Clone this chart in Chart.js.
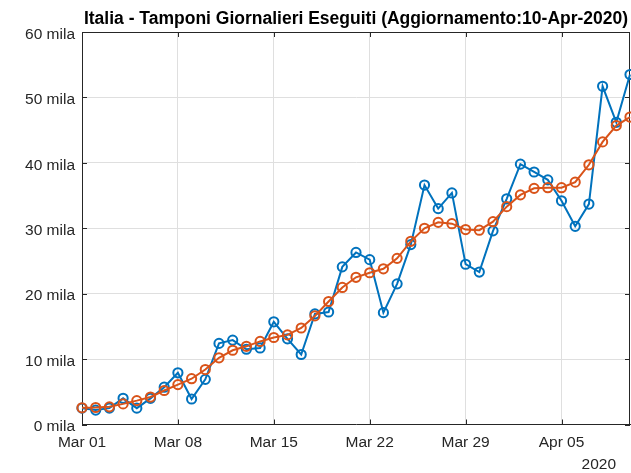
<!DOCTYPE html>
<html><head><meta charset="utf-8">
<script src="https://cdn.jsdelivr.net/npm/chart.js@4.4.1/dist/chart.umd.min.js"></script>
<style>html,body{margin:0;padding:0;background:#fff}canvas{display:block}</style>
</head><body>
<canvas id="c" width="631" height="473"></canvas>
<script>
const dates = ["Mar 01","Mar 02","Mar 03","Mar 04","Mar 05","Mar 06","Mar 07","Mar 08","Mar 09","Mar 10",
  "Mar 11","Mar 12","Mar 13","Mar 14","Mar 15","Mar 16","Mar 17","Mar 18","Mar 19","Mar 20",
  "Mar 21","Mar 22","Mar 23","Mar 24","Mar 25","Mar 26","Mar 27","Mar 28","Mar 29","Mar 30",
  "Mar 31","Apr 01","Apr 02","Apr 03","Apr 04","Apr 05","Apr 06","Apr 07","Apr 08","Apr 09","Apr 10"];
const tickLabels = ["Mar 01","Mar 08","Mar 15","Mar 22","Mar 29","Apr 05"];
// daily swabs (thousands)
const tamponi = [2.5,2.2,2.5,4.0,2.5,4.0,5.7,7.9,3.9,6.9,
  12.4,12.9,11.5,11.7,15.7,13.1,10.7,16.9,17.2,24.1,
  26.3,25.2,17.1,21.5,27.5,36.6,33.0,35.4,24.5,23.3,
  29.6,34.5,39.8,38.6,37.4,34.2,30.3,33.7,51.7,46.2,53.5];
// moving average (thousands)
const media = [2.55,2.6,2.7,3.15,3.65,4.2,5.2,6.1,7.0,8.4,
  10.2,11.35,11.95,12.7,13.3,13.7,14.75,16.6,18.8,20.95,
  22.5,23.2,23.8,25.4,28.0,30.0,30.9,30.7,29.8,29.7,
  31.0,33.3,35.1,36.1,36.2,36.2,37.05,39.7,43.2,45.7,47.0];
const yTicks = [0,10,20,30,40,50,60];
const yearLabel = "2020";
const titleText = "Italia - Tamponi Giornalieri Eseguiti (Aggiornamento:10-Apr-2020)";

const FONT = '"Liberation Sans", Arial, Helvetica, sans-serif';
const AX = '#262626';
const GRID = 'rgb(223,223,223)';
const BLUE = '#0072BD';
const ORANGE = '#D95319';

const framePlugin = {
  id: 'frame',
  beforeDatasetsDraw(chart) {
    const {ctx, chartArea: a, scales} = chart;
    ctx.save();
    ctx.strokeStyle = AX;
    ctx.lineWidth = 1;
    ctx.beginPath();
    ctx.moveTo(a.left, a.top + 0.5); ctx.lineTo(a.right, a.top + 0.5);
    ctx.moveTo(a.right - 0.5, a.top); ctx.lineTo(a.right - 0.5, a.bottom);
    const tl = 5;
    scales.x.ticks.forEach(t => {
      const px = Math.round(scales.x.getPixelForValue(t.value)) + 0.5;
      ctx.moveTo(px, a.bottom); ctx.lineTo(px, a.bottom - tl);
      ctx.moveTo(px, a.top); ctx.lineTo(px, a.top + tl);
    });
    scales.y.ticks.forEach(t => {
      const py = Math.round(scales.y.getPixelForValue(t.value)) + 0.5;
      ctx.moveTo(a.left, py); ctx.lineTo(a.left + tl, py);
      ctx.moveTo(a.right, py); ctx.lineTo(a.right - tl, py);
    });
    ctx.stroke();
    ctx.restore();
  },
  afterDraw(chart) {
    const {ctx, chartArea: a} = chart;
    ctx.save();
    ctx.fillStyle = '#000';
    ctx.font = 'bold 17.5px ' + FONT;
    ctx.textAlign = 'center';
    ctx.textBaseline = 'alphabetic';
    ctx.fillText(titleText, (a.left + a.right) / 2, 24);
    ctx.fillStyle = AX;
    ctx.font = '15.5px ' + FONT;
    ctx.textAlign = 'right';
    ctx.fillText(yearLabel, a.right - 14, 469);
    ctx.restore();
  }
};

new Chart(document.getElementById('c'), {
  type: 'line',
  data: {
    labels: dates,
    datasets: [
      {
        label: 'Media',
        data: media,
        order: 0,
        borderColor: ORANGE,
        borderWidth: 2,
        pointRadius: 4.6,
        pointBorderWidth: 2,
        pointBorderColor: ORANGE,
        pointBackgroundColor: 'rgba(0,0,0,0)',
        tension: 0,
        clip: false
      },
      {
        label: 'Tamponi',
        data: tamponi,
        order: 1,
        borderColor: BLUE,
        borderWidth: 2,
        pointRadius: 4.6,
        pointBorderWidth: 2,
        pointBorderColor: BLUE,
        pointBackgroundColor: 'rgba(0,0,0,0)',
        tension: 0,
        clip: false
      }
    ]
  },
  options: {
    responsive: false,
    animation: false,
    devicePixelRatio: 1,
    layout: { autoPadding: false, padding: { top: 32, right: 1, left: 0, bottom: 0 } },
    plugins: { legend: { display: false }, tooltip: { enabled: false }, title: { display: false } },
    scales: {
      x: {
        type: 'category',
        offset: false,
        afterBuildTicks(s) {
          s.ticks = s.ticks.filter(t => tickLabels.includes(dates[t.value]));
        },
        afterFit(s) { s.height = 48.5; },
        grid: { color: GRID, lineWidth: 1, drawTicks: false, offset: false },
        border: { display: true, color: AX, width: 1 },
        ticks: { autoSkip: false, maxRotation: 0, padding: 9, color: AX, font: { family: FONT, size: 15.5 } }
      },
      y: {
        type: 'linear',
        min: yTicks[0],
        max: yTicks[yTicks.length - 1],
        afterBuildTicks(s) { s.ticks = yTicks.map(v => ({ value: v })); },
        afterFit(s) { s.width = 82; },
        grid: { color: GRID, lineWidth: 1, drawTicks: false },
        border: { display: true, color: AX, width: 1 },
        ticks: { padding: 7, labelOffset: 2.5, color: AX, font: { family: FONT, size: 15.5 }, callback: v => v + ' mila' }
      }
    }
  },
  plugins: [framePlugin]
});
</script>
</body></html>
